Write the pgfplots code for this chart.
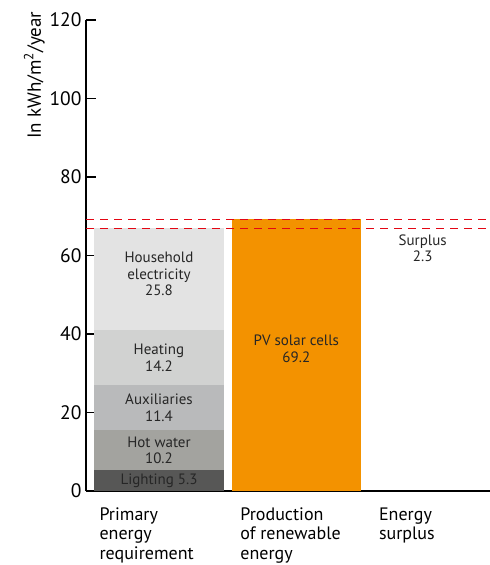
\documentclass[border=0pt]{standalone}
\usepackage{pgfplots}
\pgfplotsset{compat=1.18}
\usepackage{fontspec}
\setmainfont{PT Sans}

\definecolor{cLight}{HTML}{575756}
\definecolor{cHot}{HTML}{A3A39F}
\definecolor{cAux}{HTML}{B9BABB}
\definecolor{cHeat}{HTML}{D1D2D1}
\definecolor{cHouse}{HTML}{E3E3E3}
\definecolor{cPV}{HTML}{F39200}
\definecolor{cRed}{HTML}{E30613}

\pgfplotsset{
  chartbox/.style={
    at={(0,0)}, anchor=south west,
    scale only axis, width=404bp, height=471bp,
    xmin=0, xmax=3, ymin=0, ymax=120,
  },
}
\tikzset{barlabel/.style={font=\fontsize{15bp}{16.5bp}\selectfont, align=center, text=black!85}}

\begin{document}
\begin{tikzpicture}
\useasboundingbox (-86bp,-74bp) rectangle (404bp,491bp);
\begin{axis}[
    chartbox,
    axis x line=bottom, axis y line=left,
    axis line style={-, line width=1.6bp},
    ytick={0,20,...,120},
    tick align=inside,
    major tick length=10bp,
    ytick style={line width=1.6bp, black},
    xtick style={draw=none},
    yticklabel style={font=\fontsize{19.5bp}{22bp}\selectfont, xshift=-1bp},
    /pgf/number format/assume math mode=true,
    xtick={0.104,1.15,2.18},
    xticklabels={{Primary\\energy\\requirement},{Production\\of renewable\\energy},{Energy\\surplus}},
    xticklabel style={anchor=north west, align=left, yshift=-13bp, xshift=-4bp,
        font=\fontsize{18bp}{19.5bp}\selectfont},
    ylabel={In kWh/m\textsuperscript{2}/year},
    ylabel style={at={(axis description cs:-0.128,0.883)}, anchor=center,
        font=\fontsize{19bp}{21bp}\selectfont},
    ybar stacked, bar width=0.96,
    clip=false,
]
\addplot[fill=cLight, draw=none] coordinates {(0.542,5.3) (1.562,0)};
\addplot[fill=cHot, draw=none] coordinates {(0.542,10.2) (1.562,0)};
\addplot[fill=cAux, draw=none] coordinates {(0.542,11.4) (1.562,0)};
\addplot[fill=cHeat, draw=none] coordinates {(0.542,14.2) (1.562,0)};
\addplot[fill=cHouse, draw=none] coordinates {(0.542,25.8) (1.562,0)};
\addplot[fill=cPV, draw=none] coordinates {(0.542,0) (1.562,69.2)};
\end{axis}

\begin{axis}[chartbox, hide axis, clip=false]
\addplot[cRed, line width=1.1bp, dash pattern=on 8bp off 6bp] coordinates {(0,66.9) (3,66.9)};
\addplot[cRed, line width=1.1bp, dash pattern=on 8bp off 6bp] coordinates {(0,69.2) (3,69.2)};
\node[barlabel] at (axis cs:0.542,2.5) {Lighting 5.3};
\node[barlabel] at (axis cs:0.542,10.4) {Hot water\\10.2};
\node[barlabel] at (axis cs:0.542,21.2) {Auxiliaries\\11.4};
\node[barlabel] at (axis cs:0.542,34.0) {Heating\\14.2};
\node[barlabel] at (axis cs:0.542,55.3) {Household\\electricity\\25.8};
\node[barlabel] at (axis cs:1.562,36.2) {PV solar cells\\69.2};
\node[barlabel] at (axis cs:2.5,61.9) {Surplus\\2.3};
\end{axis}
\end{tikzpicture}
\end{document}
